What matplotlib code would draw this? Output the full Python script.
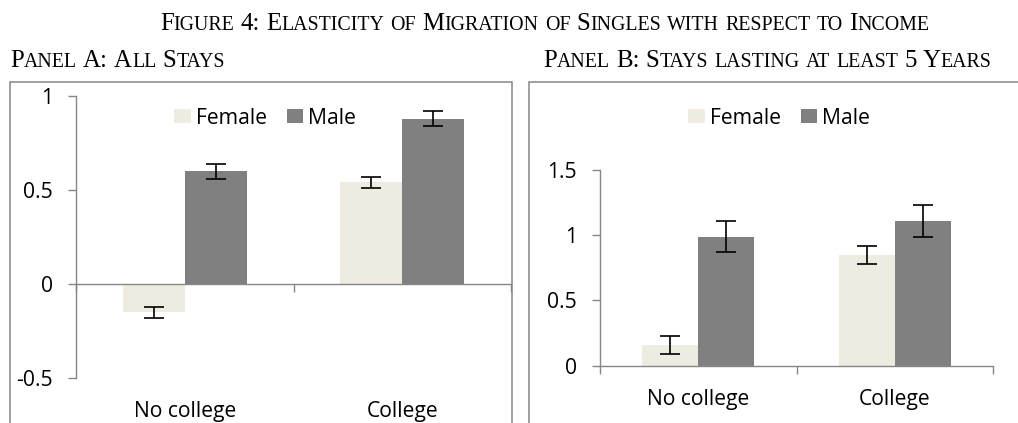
#!/usr/bin/env python3
import matplotlib

matplotlib.use("Agg")
import matplotlib.pyplot as plt
from matplotlib.patches import Rectangle
from matplotlib.transforms import blended_transform_factory

# ---- data ----
categories = ["No college", "College"]
series = ["Female", "Male"]

female_all = [-0.15, 0.54]
female_all_err = [0.03, 0.03]
male_all = [0.60, 0.88]
male_all_err = [0.04, 0.04]

female_5y = [0.16, 0.85]
female_5y_err = [0.07, 0.07]
male_5y = [0.99, 1.11]
male_5y_err = [0.12, 0.12]

yticks_a = [-0.5, 0, 0.5, 1]
yticks_b = [0, 0.5, 1, 1.5]

title = "Figure 4: Elasticity of Migration of Singles with respect to Income"
panel_a = "Panel A: All Stays"
panel_b = "Panel B: Stays lasting at least 5 Years"

FEMALE = "#EEECE1"
MALE = "#808080"
AXIS = "#868686"
SANS = "Open Sans"
SERIF = "Liberation Serif"
FS = 15.2

W, H = 1018, 423


def fx(px):
    return px / W


def fy(py):
    return 1 - py / H


def smallcaps(fig, x, y, text, size, ratio=0.8):
    # fake small caps: lowercase letters drawn as smaller capitals
    renderer = fig.canvas.get_renderer()
    runs = []
    for ch in text:
        kind = "sp" if ch == " " else ("lo" if ch.islower() else "up")
        if runs and runs[-1][0] == kind:
            runs[-1][1] += ch
        else:
            runs.append([kind, ch])

    def width(s, fs):
        t = fig.text(0, 0, s, fontsize=fs, family=SERIF)
        wd = t.get_window_extent(renderer).width
        t.remove()
        return wd

    space = size * 100 / 72 * 0.25
    cur = x
    for kind, s in runs:
        if kind == "sp":
            cur += space * len(s)
            continue
        fs = size * ratio if kind == "lo" else size
        s = s.upper()
        fig.text(fx(cur), fy(y), s, fontsize=fs, family=SERIF,
                 va="baseline", ha="left")
        # advance width: measure against a reference glyph to skip ink bearings
        cur += width(s + "H", fs) - width("H", fs)
    return cur


def panel(fig, rect, fem, fem_err, mal, mal_err, yticks, ylim, label_y, legend_xy):
    ax = fig.add_axes(rect)
    x = list(range(len(categories)))
    w = 0.285
    xf = [i - w / 2 for i in x]
    xm = [i + w / 2 for i in x]
    ax.bar(xf, fem, width=w, color=FEMALE, label=series[0], zorder=2)
    ax.bar(xm, mal, width=w, color=MALE, label=series[1], zorder=2)
    ax.errorbar(xf, fem, yerr=fem_err, fmt="none", ecolor="black",
                elinewidth=1.2, capsize=7, capthick=1.2, zorder=3)
    ax.errorbar(xm, mal, yerr=mal_err, fmt="none", ecolor="black",
                elinewidth=1.2, capsize=7, capthick=1.2, zorder=3)

    ax.set_xlim(-0.5, len(categories) - 0.5)
    ax.set_ylim(*ylim)
    ax.set_yticks(yticks)
    ax.set_yticklabels([f"{v:g}" for v in yticks], fontsize=FS, family=SANS)
    ax.set_xticks([-0.5, 0.5, 1.5])
    ax.set_xticklabels([])
    ax.tick_params(axis="y", direction="out", length=5.5, width=1.0,
                   color=AXIS, pad=11)
    ax.tick_params(axis="x", direction="out", length=5.5, width=1.0, color=AXIS)
    for side in ("top", "right"):
        ax.spines[side].set_visible(False)
    for side in ("left", "bottom"):
        ax.spines[side].set_color(AXIS)
        ax.spines[side].set_linewidth(1.0)
    ax.spines["bottom"].set_position(("data", 0))

    trans = blended_transform_factory(ax.transData, fig.transFigure)
    for i, c in enumerate(categories):
        fig.text(i, fy(label_y), c, fontsize=FS, family=SANS, ha="center",
                 va="center", transform=trans)

    ax.legend(loc="center", bbox_to_anchor=(fx(legend_xy[0]), fy(legend_xy[1])),
              bbox_transform=fig.transFigure, ncol=2, frameon=False,
              prop={"family": SANS, "size": FS}, handlelength=0.8,
              handleheight=0.7, handletextpad=0.2, columnspacing=0.95)
    return ax


def main() -> None:
    fig = plt.figure(figsize=(W / 100, H / 100), dpi=100)

    # chart frames
    fig.add_artist(Rectangle((fx(10), fy(440)), fx(501.5), fy(82) - fy(440),
                             transform=fig.transFigure, fill=False,
                             edgecolor=AXIS, lw=1.1))
    fig.add_artist(Rectangle((fx(529), fy(440)), fx(520), fy(82) - fy(440),
                             transform=fig.transFigure, fill=False,
                             edgecolor=AXIS, lw=1.1))

    panel(fig, [fx(76), fy(378), fx(511 - 76), fy(96) - fy(378)],
          female_all, female_all_err, male_all, male_all_err,
          yticks_a, (-0.5, 1), 411, (265, 118))
    panel(fig, [fx(600), fy(365.7), fx(993 - 600), fy(170) - fy(365.7)],
          female_5y, female_5y_err, male_5y, male_5y_err,
          yticks_b, (0, 1.5), 399, (779, 118))

    smallcaps(fig, 160, 30, title, 17.9)
    smallcaps(fig, 10, 67, panel_a, 17.9)
    smallcaps(fig, 543, 67, panel_b, 17.9)

    fig.savefig("out.png", dpi=100)
    plt.close(fig)


if __name__ == "__main__":
    main()
